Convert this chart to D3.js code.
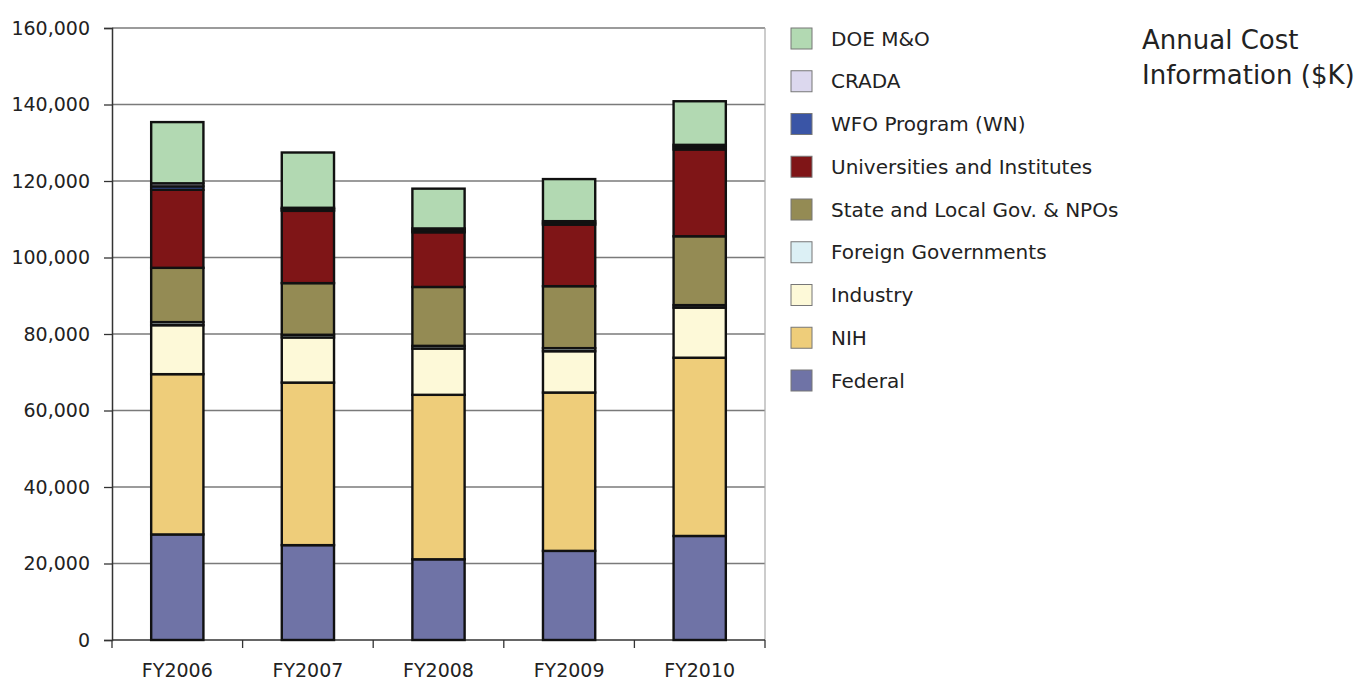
<!DOCTYPE html>
<html>
<head>
<meta charset="utf-8">
<script src="https://cdn.jsdelivr.net/npm/d3@7"></script>
<style>
  html, body { margin: 0; padding: 0; background: #fff; }
  svg { display: block; }
  text { font-family: "DejaVu Sans", sans-serif; fill: #222; }
</style>
</head>
<body>
<svg id="chart" width="1358" height="681"></svg>
<script>
// ---- data ($K) ----
const years = ["FY2006", "FY2007", "FY2008", "FY2009", "FY2010"];
const seriesNames = ["Federal", "NIH", "Industry", "Foreign Governments",
  "State and Local Gov. & NPOs", "Universities and Institutes",
  "WFO Program (WN)", "CRADA", "DOE M&O"];
const federal   = [27600, 24800, 21100, 23300, 27200];
const nih       = [41900, 42500, 43000, 41400, 46600];
const industry  = [12800, 11800, 12100, 10800, 13100];
const foreign   = [800, 700, 700, 800, 650];
const stateLocal= [14200, 13500, 15400, 16200, 18000];
const univ      = [20400, 18900, 14300, 16100, 22700];
const wfo       = [900, 400, 500, 400, 600];
const crada     = [800, 400, 500, 500, 600];
const doe       = [16000, 14450, 10400, 11000, 11400];
const yTicks    = [0, 20000, 40000, 60000, 80000, 100000, 120000, 140000, 160000];
const colors    = ["#6f73a6", "#eecd7a", "#fdf9d8", "#dcf0f5", "#948b54",
                   "#7f1517", "#3a55a6", "#dcd8ee", "#b2d9b2"];
const titleLines = ["Annual Cost", "Information ($K)"];

const seriesValues = [federal, nih, industry, foreign, stateLocal, univ, wfo, crada, doe];
const table = years.map((yr, i) => {
  const row = { year: yr };
  seriesNames.forEach((s, k) => row[s] = seriesValues[k][i]);
  return row;
});

const svg = d3.select("#chart");
const mLeft = 112, mRight = 765, mTop = 28, mBottom = 640;

const x = d3.scaleBand().domain(years).range([mLeft, mRight])
  .paddingInner(0.6).paddingOuter(0.3);
const y = d3.scaleLinear().domain([0, 160000]).range([mBottom, mTop]);

// gridlines
svg.append("g").selectAll("line").data(yTicks.filter(d => d > 0)).join("line")
  .attr("x1", mLeft).attr("x2", mRight)
  .attr("y1", d => y(d)).attr("y2", d => y(d))
  .attr("stroke", "#7a7a7a").attr("stroke-width", 1.4);
// right border
svg.append("line").attr("x1", mRight).attr("x2", mRight)
  .attr("y1", mTop).attr("y2", mBottom)
  .attr("stroke", "#aaa").attr("stroke-width", 1.2);

// y axis
const yAxis = d3.axisLeft(y).tickValues(yTicks).tickSize(8).tickPadding(14)
  .tickFormat(d3.format(","));
const gy = svg.append("g").attr("transform", `translate(${mLeft},0)`).call(yAxis);
gy.select(".domain").attr("stroke", "#333").attr("stroke-width", 1.5);
gy.selectAll(".tick line").attr("stroke", "#333").attr("stroke-width", 1.3);
gy.selectAll(".tick text").attr("font-size", 19).attr("fill", "#222")
  .style("font-family", "DejaVu Sans, sans-serif");

// x axis
const xTickScale = d3.scaleLinear().domain([0, years.length]).range([mLeft, mRight]);
svg.append("line").attr("x1", mLeft).attr("x2", mRight).attr("y1", mBottom).attr("y2", mBottom)
  .attr("stroke", "#333").attr("stroke-width", 1.5);
svg.append("g").selectAll("line").data(d3.range(years.length + 1)).join("line")
  .attr("x1", d => xTickScale(d)).attr("x2", d => xTickScale(d))
  .attr("y1", mBottom).attr("y2", mBottom + 8)
  .attr("stroke", "#333").attr("stroke-width", 1.3);
svg.append("g").selectAll("text").data(years).join("text")
  .attr("x", d => x(d) + x.bandwidth() / 2)
  .attr("y", 677).attr("text-anchor", "middle").attr("font-size", 19)
  .text(d => d);

// stacked bars
const stack = d3.stack().keys(seriesNames);
const stacked = stack(table);
svg.append("g").selectAll("g").data(stacked).join("g")
  .attr("fill", (d, i) => colors[i])
  .selectAll("rect").data(d => d).join("rect")
  .attr("x", d => x(d.data.year))
  .attr("width", x.bandwidth())
  .attr("y", d => y(d[1]))
  .attr("height", d => y(d[0]) - y(d[1]))
  .attr("stroke", "#111").attr("stroke-width", 2.4);

// legend
const legendNames = seriesNames.slice().reverse();
const legendColors = colors.slice().reverse();
const lg = svg.append("g").attr("transform", "translate(791,28)");
const item = lg.selectAll("g").data(legendNames).join("g")
  .attr("transform", (d, i) => `translate(0,${i * 42.75})`);
item.append("rect").attr("width", 21).attr("height", 21)
  .attr("fill", (d, i) => legendColors[i]).attr("stroke", "#777").attr("stroke-width", 1);
item.append("text").attr("x", 40).attr("y", 10.5).attr("dy", "0.35em")
  .attr("font-size", 20).text(d => d);

// title
svg.append("g").selectAll("text").data(titleLines).join("text")
  .attr("x", 1142).attr("y", (d, i) => 49 + i * 35)
  .attr("font-size", 26).attr("fill", "#3a3a3a")
  .text(d => d);
</script>
</body>
</html>
